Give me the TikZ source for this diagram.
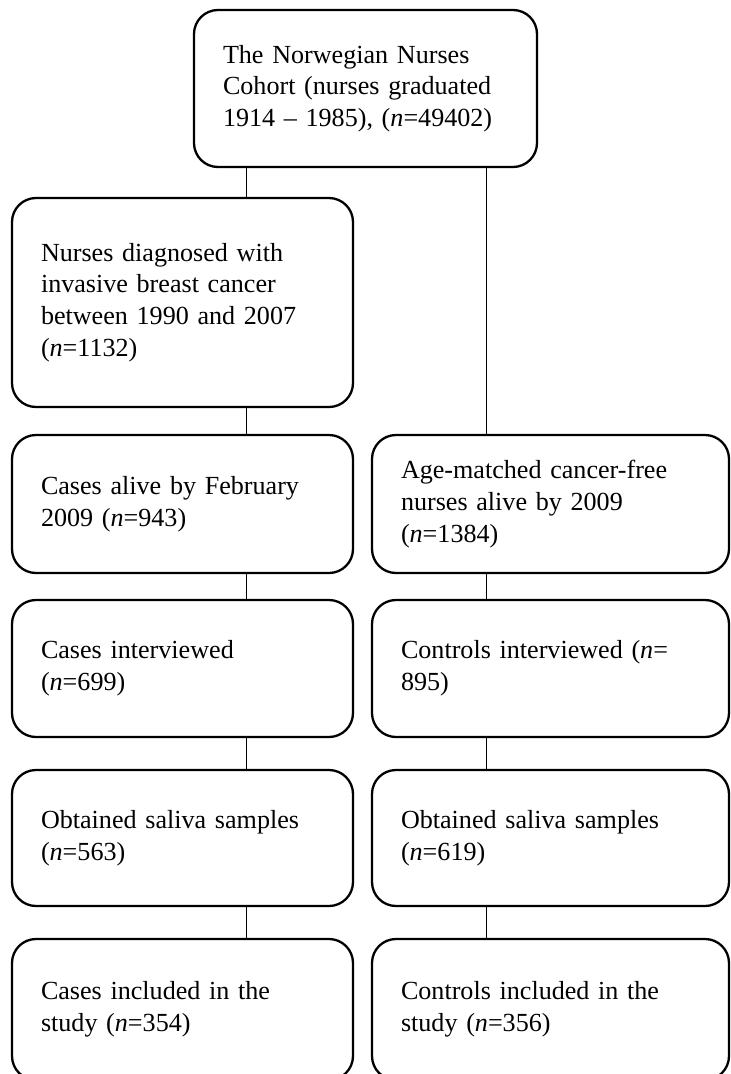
\documentclass[tikz,border=0pt]{standalone}
\usepackage{fontspec}
\setmainfont{Liberation Serif}
\tikzset{
  stagebox/.style={draw=black, line width=2.3pt, rounded corners=24pt,
    align=left, inner xsep=29pt, inner ysep=0pt,
    font=\fontsize{26.1}{31.7}\selectfont},
  link/.style={draw=black, line width=0.9pt}
}
\begin{document}
\begin{tikzpicture}[x=1pt,y=-1pt]
\useasboundingbox (0,0) rectangle (731,1074);

\coordinate (lcol) at (246,0);
\coordinate (rcol) at (486,0);

% top of the flow
\node[stagebox, minimum width=343pt, minimum height=157pt, text width=285pt] (cohort) at (365.5,88.5)
  {The Norwegian Nurses\\Cohort (nurses graduated\\1914 -- 1985), (\textit{n}=49402)};

% cases column
\node[stagebox, minimum width=341pt, minimum height=209pt, text width=283pt] (diag) at (182.5,302.5)
  {Nurses diagnosed with\\invasive breast cancer\\between 1990 and 2007\\(\textit{n}=1132)};
\node[stagebox, minimum width=341pt, minimum height=138pt, text width=283pt] (casesalive) at (182.5,504)
  {Cases alive by February\\2009 (\textit{n}=943)};
\node[stagebox, minimum width=341pt, minimum height=137pt, text width=283pt] (casesint) at (182.5,668.5)
  {Cases interviewed\\(\textit{n}=699)};
\node[stagebox, minimum width=341pt, minimum height=136pt, text width=283pt] (casessal) at (182.5,838)
  {Obtained saliva samples\\(\textit{n}=563)};
\node[stagebox, minimum width=341pt, minimum height=141pt, text width=283pt] (casesinc) at (182.5,1009.5)
  {Cases included in the\\study (\textit{n}=354)};

% controls column
\node[stagebox, minimum width=357pt, minimum height=138pt, text width=299pt] (agematched) at (550.5,504)
  {Age-matched cancer-free\\nurses alive by 2009\\(\textit{n}=1384)};
\node[stagebox, minimum width=357pt, minimum height=137pt, text width=299pt] (ctrlint) at (550.5,668.5)
  {Controls interviewed (\textit{n}=\\895)};
\node[stagebox, minimum width=357pt, minimum height=136pt, text width=299pt] (ctrlsal) at (550.5,838)
  {Obtained saliva samples\\(\textit{n}=619)};
\node[stagebox, minimum width=357pt, minimum height=141pt, text width=299pt] (ctrlinc) at (550.5,1009.5)
  {Controls included in the\\study (\textit{n}=356)};

% connectors
\draw[link] (cohort.south -| lcol) -- (diag.north -| lcol);
\draw[link] (diag.south -| lcol) -- (casesalive.north -| lcol);
\draw[link] (casesalive.south -| lcol) -- (casesint.north -| lcol);
\draw[link] (casesint.south -| lcol) -- (casessal.north -| lcol);
\draw[link] (casessal.south -| lcol) -- (casesinc.north -| lcol);

\draw[link] (cohort.south -| rcol) -- (agematched.north -| rcol);
\draw[link] (agematched.south -| rcol) -- (ctrlint.north -| rcol);
\draw[link] (ctrlint.south -| rcol) -- (ctrlsal.north -| rcol);
\draw[link] (ctrlsal.south -| rcol) -- (ctrlinc.north -| rcol);
\end{tikzpicture}
\end{document}
